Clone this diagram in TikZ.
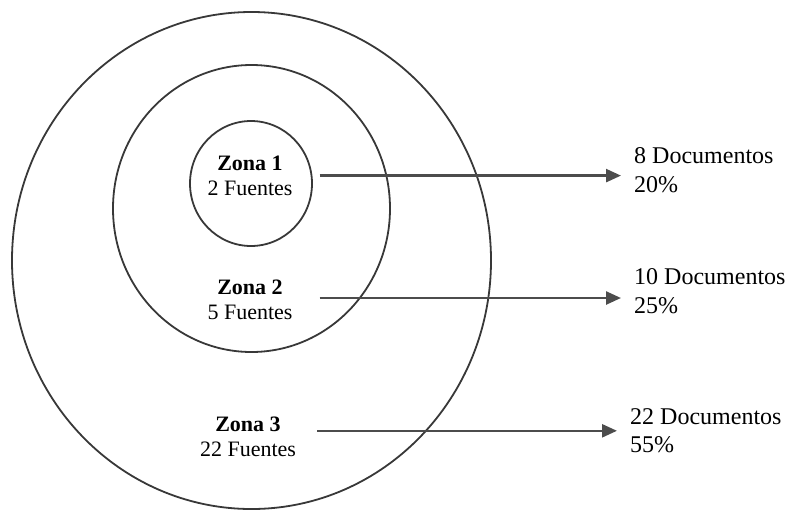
\documentclass[tikz,border=0pt]{standalone}
\usepackage{fontspec}
\setmainfont{Liberation Serif}
\usetikzlibrary{arrows.meta}
\tikzset{
  zona/.style={align=center, inner sep=0pt, font=\fontsize{22}{25.5}\selectfont},
  doc/.style={align=left, anchor=west, inner xsep=13pt, inner ysep=0pt, font=\fontsize{24}{28.5}\selectfont},
  anillo/.style={draw=black!78, line width=1.8pt},
  flecha/.style={draw=black!70, line width=2.5pt, -{Triangle[length=15pt,width=13pt]}}
}
\begin{document}
\begin{tikzpicture}[x=1pt,y=-1pt]
			%%%%% START %%%%%
			\useasboundingbox (0,0) rectangle (792,512);
			
			\draw[anillo] (251.5,260.5) ellipse [x radius=239.5pt, y radius=248.5pt];
			\draw[anillo] (251.5,208.5) ellipse [x radius=138.5pt, y radius=143.5pt];
			\draw[anillo] (251,183.5) ellipse [x radius=61pt, y radius=62.5pt];
			
			\node[zona] (z1) at (250,175.6) {\textbf{Zona 1}\\2 Fuentes};
			\node[zona] (z2) at (250,300) {\textbf{Zona 2}\\5 Fuentes};
			\node[zona] (z3) at (248,436.8) {\textbf{Zona 3}\\22 Fuentes};
			
			\node[doc] (d1) at (621,170) {8 Documentos\\20\%};
			\node[doc] (d2) at (621,291) {10 Documentos\\25\%};
			\node[doc] (d3) at (617,430.7) {22 Documentos\\55\%};
			
			\draw[flecha] ([xshift=27pt]z1.east) coordinate (s1) -- (s1 -| d1.west);
			\draw[flecha] ([xshift=27pt,yshift=2pt]z2.east) coordinate (s2) -- (s2 -| d2.west);
			\draw[flecha] ([xshift=21pt,yshift=6pt]z3.east) coordinate (s3) -- (s3 -| d3.west);
			
			%%%%% END %%%%%
\end{tikzpicture}
\end{document}
